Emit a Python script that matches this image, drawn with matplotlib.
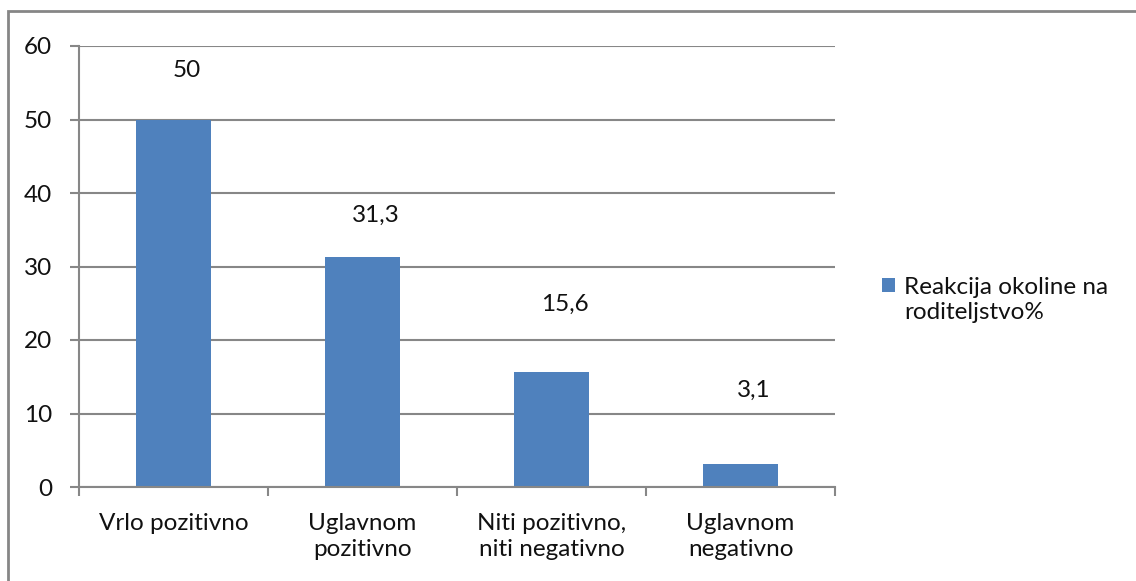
import matplotlib
matplotlib.use("Agg")
import matplotlib.pyplot as plt
from matplotlib.patches import Rectangle
from matplotlib.legend_handler import HandlerPatch
import numpy as np

categories = ["Vrlo pozitivno", "Uglavnom\npozitivno", "Niti pozitivno,\nniti negativno", "Uglavnom\nnegativno"]
values = [50, 31.3, 15.6, 3.1]
value_labels = ["50", "31,3", "15,6", "3,1"]
label_y = [56.7, 37.0, 24.9, 13.2]
yticks = [0, 10, 20, 30, 40, 50, 60]
series_name = "Reakcija okoline na\nroditeljstvo%"

plt.rcParams['font.family'] = ['Lato', 'DejaVu Sans']
FS = 17.5
LS = 1.25
TXT = "#111111"
bar_color = "#4F81BD"
grid_color = "#878787"

W, H = 1136, 581
fig = plt.figure(figsize=(W / 100, H / 100), dpi=100)
ax = fig.add_axes([79 / W, 1 - 487 / H, (835 - 79) / W, (487 - 46) / H])

x = np.arange(len(categories))
bars = ax.bar(x, values, width=0.4, color=bar_color, zorder=3, label=series_name)

ax.set_xlim(-0.5, len(categories) - 0.5)
ax.set_ylim(0, 60)
ax.set_yticks(yticks)
ax.set_yticklabels([str(t) for t in yticks], fontsize=FS, color=TXT)
ax.set_xticks(x)
ax.set_xticklabels(categories, fontsize=FS, color=TXT, linespacing=LS)
ax.set_xticks(np.arange(len(categories) + 1) - 0.5, minor=True)
ax.tick_params(axis="x", which="major", length=0, pad=19)
ax.tick_params(axis="x", which="minor", length=6.5, width=1.5, color=grid_color, direction="out")
ax.tick_params(axis="y", length=6.5, width=1.5, color=grid_color, direction="out", pad=13)

ax.grid(axis="y", color=grid_color, linewidth=1.5, zorder=0)
for s in ["top", "right"]:
    ax.spines[s].set_visible(False)
for s in ["left", "bottom"]:
    ax.spines[s].set_color(grid_color)
    ax.spines[s].set_linewidth(1.5)
    ax.spines[s].set_zorder(4)

for xi, lab, ly in zip(x, value_labels, label_y):
    ax.text(xi + 0.07, ly, lab, ha="center", va="center", fontsize=FS, color=TXT)

shift = FS * LS / 2


def top_square(legend, orig_handle, xdescent, ydescent, width, height, fontsize):
    return Rectangle((-xdescent, -ydescent + shift), width, height)


leg = fig.legend(handles=[bars[0]], labels=[series_name], loc="upper left",
                 bbox_to_anchor=(882 / W, 1 - 277 / H), frameon=False,
                 fontsize=FS, handlelength=0.55, handleheight=0.55, handletextpad=0.35,
                 borderpad=0, borderaxespad=0,
                 handler_map={Rectangle: HandlerPatch(patch_func=top_square)})
for t in leg.get_texts():
    t.set_linespacing(LS)
    t.set_color(TXT)

fig.patches.append(Rectangle((8 / W, -0.1), 1.2, (1 - 10.5 / H) + 0.1,
                             transform=fig.transFigure, fill=False,
                             edgecolor="#868686", linewidth=2, zorder=0))

fig.savefig("out.png", dpi=100, facecolor="white")
